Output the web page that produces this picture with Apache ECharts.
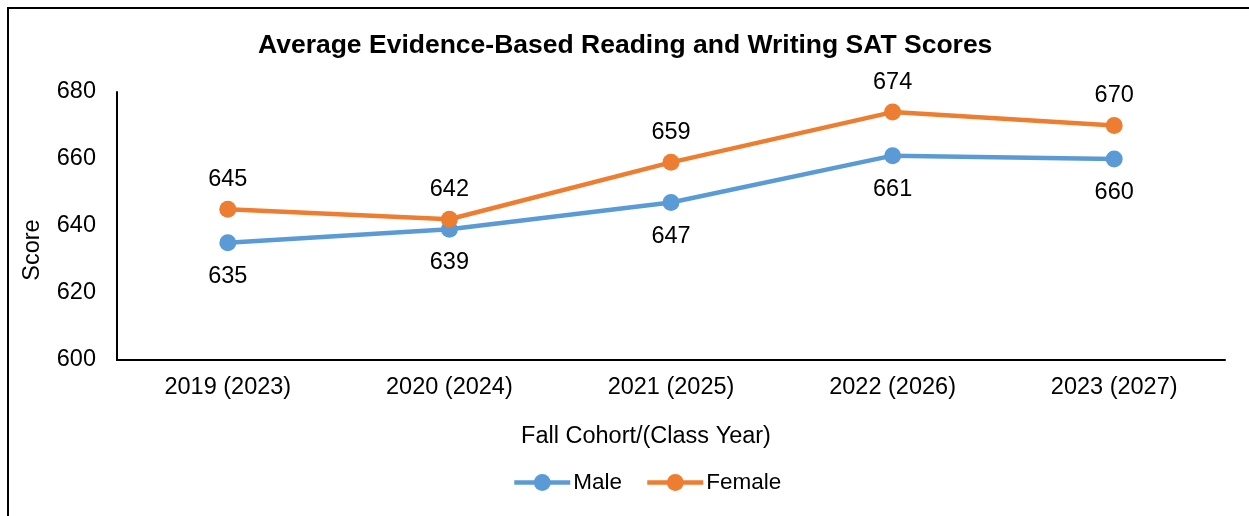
<!DOCTYPE html>
<html>
<head>
<meta charset="utf-8">
<script src="https://cdn.jsdelivr.net/npm/echarts@6/dist/echarts.min.js"></script>
<style>
  html, body { margin: 0; padding: 0; background: #fff; }
  #container { width: 1249px; height: 516px; }
</style>
</head>
<body>
<div id="container"></div>
<script>
var categories = ['2019 (2023)', '2020 (2024)', '2021 (2025)', '2022 (2026)', '2023 (2027)'];
var maleScores = [635, 639, 647, 661, 660];
var femaleScores = [645, 642, 659, 674, 670];

var FONT = 'Liberation Sans, Arial, sans-serif';
var FS = 23.5;

var myChart = echarts.init(document.getElementById('container'));

var option = {
    backgroundColor: '#fff',
    animation: false,
    title: {
        text: 'Average Evidence-Based Reading and Writing SAT Scores',
        left: 253,
        top: 27,
        textStyle: { fontFamily: FONT, fontSize: 26.5, fontWeight: 'bold', color: '#000' }
    },
    graphic: [{
        type: 'rect',
        shape: { x: 8, y: 8, width: 1260, height: 530 },
        style: { fill: 'none', stroke: '#000', lineWidth: 2 },
        silent: true
    }],
    legend: {
        left: 507,
        top: 466,
        itemWidth: 56,
        itemHeight: 21,
        itemGap: 23,
        lineStyle: { width: 4.5 },
        textStyle: { fontFamily: FONT, fontSize: 22.5, color: '#000', padding: [0, 0, 0, -2] },
        data: ['Male', 'Female']
    },
    grid: { left: 117, right: 24, top: 92, bottom: 156 },
    xAxis: {
        type: 'category',
        data: categories,
        boundaryGap: true,
        name: 'Fall Cohort/(Class Year)',
        nameLocation: 'middle',
        nameGap: 65,
        nameTextStyle: { fontFamily: FONT, fontSize: FS, color: '#000', padding: [0, 50, 0, 0] },
        axisLine: { lineStyle: { color: '#000', width: 2 } },
        axisTick: { show: false },
        axisLabel: { fontFamily: FONT, fontSize: FS, color: '#000', margin: 16 }
    },
    yAxis: {
        type: 'value',
        min: 600,
        max: 680,
        interval: 20,
        name: 'Score',
        nameLocation: 'middle',
        nameGap: 72,
        nameTextStyle: { fontFamily: FONT, fontSize: FS, color: '#000', padding: [0, 48, 0, 0] },
        axisLine: { show: true, lineStyle: { color: '#000', width: 2 } },
        axisTick: { show: false },
        splitLine: { show: false },
        axisLabel: { fontFamily: FONT, fontSize: FS, color: '#000', margin: 21 }
    },
    series: [{
        name: 'Male',
        type: 'line',
        data: maleScores,
        symbol: 'circle',
        symbolSize: 17,
        color: '#5B9BD5',
        lineStyle: { width: 4.5, color: '#5B9BD5' },
        label: {
            show: true,
            position: 'bottom',
            distance: 13,
            fontFamily: FONT,
            fontSize: FS,
            color: '#000'
        }
    }, {
        name: 'Female',
        type: 'line',
        data: femaleScores,
        symbol: 'circle',
        symbolSize: 17,
        color: '#ED7D31',
        lineStyle: { width: 4.5, color: '#ED7D31' },
        label: {
            show: true,
            position: 'top',
            distance: 9,
            fontFamily: FONT,
            fontSize: FS,
            color: '#000'
        }
    }]
};

myChart.setOption(option);

window.onresize = function () {
    myChart.resize();
};
</script>
</body>
</html>
